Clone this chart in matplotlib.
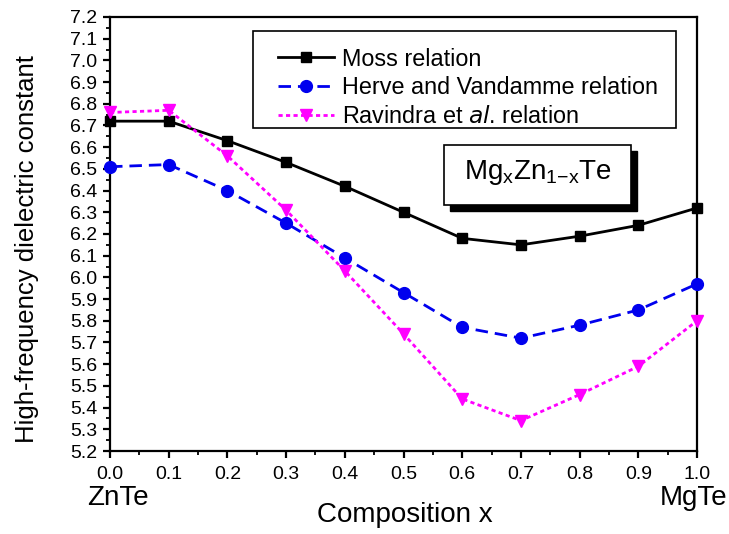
import matplotlib
matplotlib.use("Agg")
import matplotlib.pyplot as plt
from matplotlib.ticker import MultipleLocator, FormatStrFormatter
from matplotlib.patches import Rectangle

plt.rcParams['font.family'] = ['Liberation Sans', 'DejaVu Sans']

x = [0.0, 0.1, 0.2, 0.3, 0.4, 0.5, 0.6, 0.7, 0.8, 0.9, 1.0]
moss = [6.72, 6.72, 6.63, 6.53, 6.42, 6.30, 6.18, 6.15, 6.19, 6.24, 6.32]
herve = [6.51, 6.52, 6.40, 6.25, 6.09, 5.93, 5.77, 5.72, 5.78, 5.85, 5.97]
ravindra = [6.76, 6.77, 6.56, 6.31, 6.03, 5.74, 5.44, 5.34, 5.46, 5.59, 5.80]

W, H = 729, 534
fig = plt.figure(figsize=(W / 100, H / 100), dpi=100)
# axes box in pixels: left 110, right 697, top 17, bottom 451
ax = fig.add_axes([110 / W, 1 - 451 / H, 587 / W, 434 / H])

ax.plot(x, moss, color='black', linestyle='-', linewidth=2, marker='s',
        markersize=7.5, label='Moss relation', clip_on=False, zorder=3)
ax.plot(x, herve, color='#0000ee', linestyle=(0, (4.5, 2.5)), linewidth=2, marker='o',
        markersize=8.5, label='Herve and Vandamme relation', clip_on=False, zorder=3)
ax.plot(x, ravindra, color='#ff00ff', linestyle=(0, (1.5, 1.2)), linewidth=2, marker='v',
        markersize=8.5, label='Ravindra et $\\it{al}$. relation', clip_on=False, zorder=3)

ax.set_xlim(0, 1.0)
ax.set_ylim(5.2, 7.2)
ax.xaxis.set_major_locator(MultipleLocator(0.1))
ax.xaxis.set_minor_locator(MultipleLocator(0.05))
ax.yaxis.set_major_locator(MultipleLocator(0.1))
ax.yaxis.set_minor_locator(MultipleLocator(0.05))
ax.tick_params(which='major', direction='out', length=5, width=1.6, labelsize=14)
ax.tick_params(which='minor', direction='out', length=3, width=1.3)
ax.tick_params(axis='x', which='major', pad=6)
ax.tick_params(axis='y', which='major', pad=4)
ax.xaxis.set_major_formatter(FormatStrFormatter('%.1f'))
ax.yaxis.set_major_formatter(FormatStrFormatter('%.1f'))
for s in ax.spines.values():
    s.set_linewidth(1.6)

fig.text(405 / W, 1 - 515 / H, 'Composition x', fontsize=20, ha='center', va='center')
fig.text(27 / W, 1 - 249 / H, 'High-frequency dielectric constant', fontsize=18.5,
         rotation=90, ha='center', va='center')
fig.text(87 / W, 1 - 498 / H, 'ZnTe', fontsize=20, ha='left', va='center')
fig.text(727 / W, 1 - 498 / H, 'MgTe', fontsize=20, ha='right', va='center')

# legend box: pixels x 253-676, y 31-128
lx0, lx1, ly0, ly1 = 0.2436, 0.964, 0.744, 0.968
shift = 16 / 587
leg = ax.legend(loc='upper left',
                bbox_to_anchor=(lx0 + shift, ly0 - 0.017, lx1 - lx0 - shift, ly1 - ly0),
                mode='expand', fontsize=16.8, frameon=True, fancybox=False,
                edgecolor='black', handlelength=2.4, borderpad=0.4, labelspacing=0.25,
                handletextpad=0.35, borderaxespad=0)
leg.get_frame().set_visible(False)
ax.add_patch(Rectangle((lx0, ly0), lx1 - lx0, ly1 - ly0, transform=ax.transAxes,
                       facecolor='none', edgecolor='black', linewidth=1.2, zorder=6))

# composition label box with drop shadow: pixels x 444-631, y 145-205
bx0, bx1, by0, by1 = 0.569, 0.8876, 0.567, 0.705
sx, sy = 6 / 587, 6 / 434
ax.add_patch(Rectangle((bx0 + sx, by0 - sy), bx1 - bx0, by1 - by0, transform=ax.transAxes,
                       facecolor='black', edgecolor='black', zorder=4))
ax.add_patch(Rectangle((bx0, by0), bx1 - bx0, by1 - by0, transform=ax.transAxes,
                       facecolor='white', edgecolor='black', linewidth=1.2, zorder=5))
ax.text((bx0 + bx1) / 2, (by0 + by1) / 2 + 0.005, '$\\mathregular{Mg_xZn_{1{-}x}Te}$',
        transform=ax.transAxes, fontsize=20, ha='center', va='center', zorder=6)

fig.savefig('out.png', dpi=100)
